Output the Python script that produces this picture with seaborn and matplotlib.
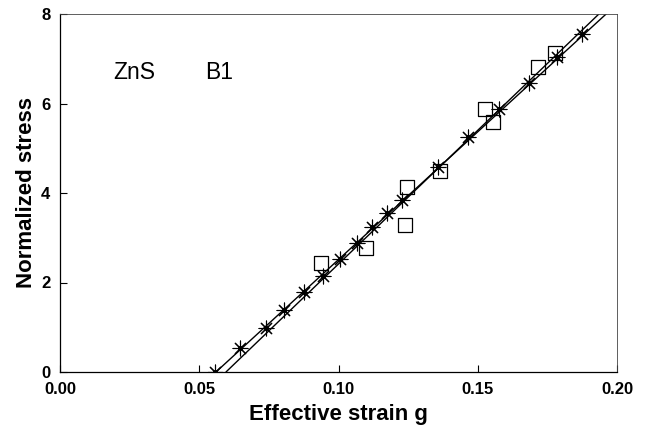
import pandas as pd
import matplotlib.pyplot as plt
import seaborn as sns

sns.set_style("white")
plt.rcParams["font.family"] = ["Liberation Sans", "DejaVu Sans"]
plt.rcParams["text.color"] = "black"
plt.rcParams["axes.labelcolor"] = "black"
plt.rcParams["xtick.color"] = "black"
plt.rcParams["ytick.color"] = "black"

# fitted lines (end points at stress 0 and 8)
line1_x = [0.0560, 0.1961]
line1_y = [0.0, 8.0]
line2_x = [0.0596, 0.1935]
line2_y = [0.0, 8.0]

# calculated points (stars)
star_x = [0.0557, 0.0646, 0.0740, 0.0804, 0.0876, 0.0944, 0.1005, 0.1066, 0.1120,
          0.1174, 0.1228, 0.1357, 0.1465, 0.1576, 0.1684, 0.1785, 0.1874]
star_y = [0.00, 0.54, 0.98, 1.39, 1.79, 2.15, 2.53, 2.88, 3.24,
          3.55, 3.84, 4.58, 5.25, 5.88, 6.46, 7.04, 7.55]

# measured points (open squares)
sq_x = [0.0937, 0.1099, 0.1239, 0.1246, 0.1364, 0.1526, 0.1555, 0.1716, 0.1777]
sq_y = [2.44, 2.77, 3.29, 4.13, 4.49, 5.88, 5.59, 6.82, 7.13]

lines = pd.DataFrame({
    "g": line1_x + line2_x,
    "stress": line1_y + line2_y,
    "fit": ["a", "a", "b", "b"],
})
stars = pd.DataFrame({"g": star_x, "stress": star_y})
squares = pd.DataFrame({"g": sq_x, "stress": sq_y})

fig = plt.figure(figsize=(6.45, 4.28), dpi=100)
ax = fig.add_axes([60 / 645, 1 - 372 / 428, 557 / 645, 358 / 428])

sns.lineplot(data=lines, x="g", y="stress", units="fit", estimator=None,
             color="black", linewidth=1.0, ax=ax, legend=False)
sns.scatterplot(data=squares, x="g", y="stress", marker="s", s=105,
                facecolor="none", edgecolor="black", linewidth=0.9, ax=ax)
sns.scatterplot(data=stars, x="g", y="stress", marker=(8, 2, 0), s=115,
                color="black", linewidth=0.8, ax=ax)
sns.scatterplot(data=stars, x="g", y="stress", marker="o", s=14,
                color="black", linewidth=0, ax=ax)

ax.set_xlim(0, 0.20)
ax.set_ylim(0, 8)
ax.set_xticks([0.00, 0.05, 0.10, 0.15, 0.20])
ax.set_xticklabels(["0.00", "0.05", "0.10", "0.15", "0.20"])
ax.set_yticks([0, 2, 4, 6, 8])
ax.tick_params(direction="in", length=5, width=0.8, labelsize=12,
               top=False, right=False, bottom=True, left=True, pad=7)
for lab in ax.get_xticklabels() + ax.get_yticklabels():
    lab.set_fontweight("bold")

for side in ["left", "bottom", "top", "right"]:
    ax.spines[side].set_color("black")
    ax.spines[side].set_linewidth(0.9)
for side in ["top", "right"]:
    ax.spines[side].set_linewidth(0.6)
    ax.spines[side].set_color("#444444")

ax.set_xlabel("Effective strain g", fontsize=16, fontweight="bold", labelpad=5)
ax.set_ylabel("Normalized stress", fontsize=16, fontweight="bold", labelpad=3)

ax.text(0.019, 6.70, "ZnS", fontsize=16.5, ha="left", va="center")
ax.text(0.052, 6.70, "B1", fontsize=16.5, ha="left", va="center")

fig.savefig("out.png", dpi=100)
